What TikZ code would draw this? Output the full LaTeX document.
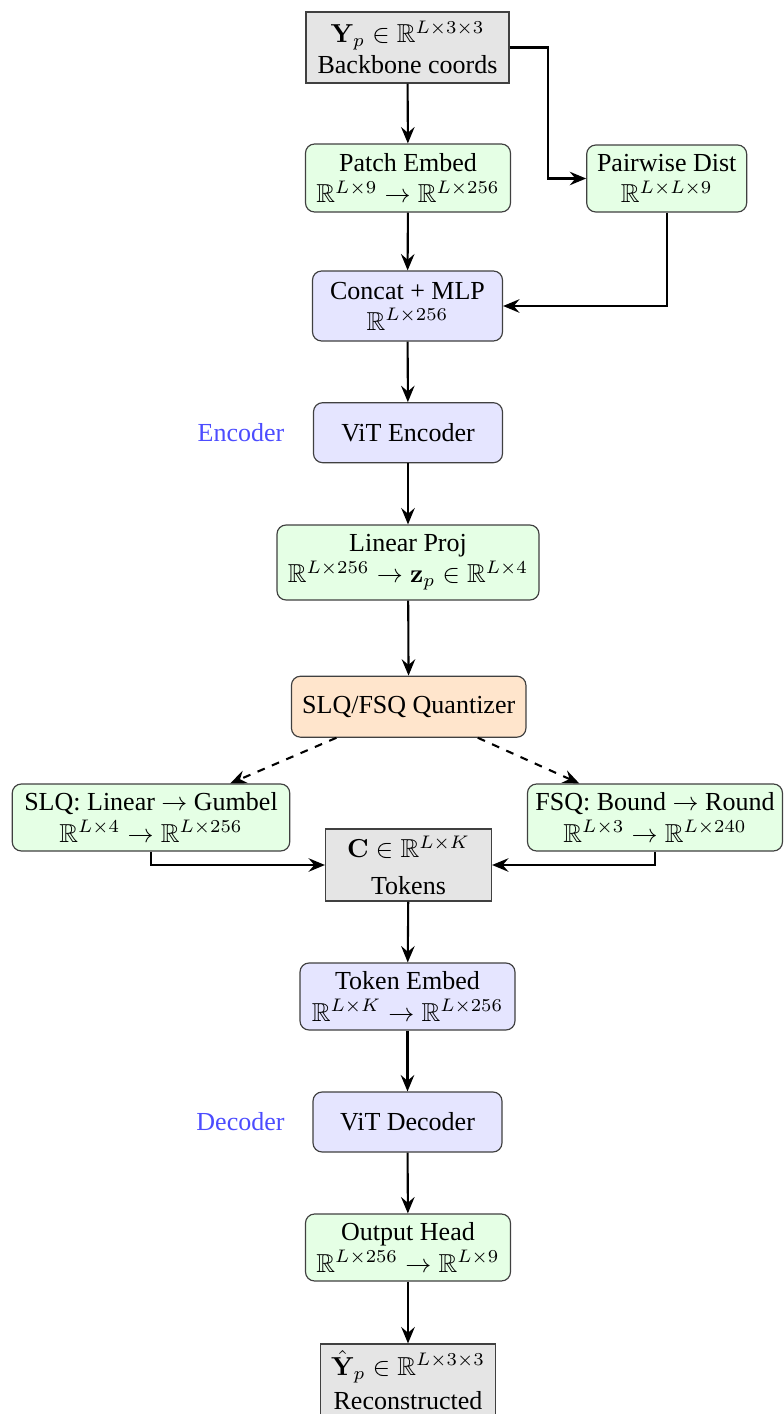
\documentclass[tikz,border=0pt]{standalone}
\usepackage{amsmath,amssymb}
\usepackage[no-math]{fontspec}
\setmainfont{Liberation Serif}
\usetikzlibrary{arrows.meta}
\newcommand{\pxlen}{0.3846pt}
\begin{document}
\begin{tikzpicture}[x=0.3846pt,y=-0.3846pt,
  box/.style={draw=black!75, line width=0.45pt, align=center, inner sep=0pt,
    font=\fontsize{10}{12}\selectfont},
  wh/.style 2 args={minimum width=#1*\pxlen, minimum height=#2*\pxlen},
  iobox/.style={box, fill=gray!20},
  opbox/.style={box, fill=green!10, rounded corners=3.5pt},
  netbox/.style={box, fill=blue!10, rounded corners=3.5pt},
  qbox/.style={box, fill=orange!20, rounded corners=3.5pt},
  lbl/.style={text=blue!70, font=\fontsize{10}{12}\selectfont},
  arr/.style={-{Stealth[length=6.3pt,width=5.2pt,inset=2.2pt]}, thick},
]
\useasboundingbox (0,0) rectangle (783,1414);

% encoder path
\node[iobox, wh={203}{71}] (yp) at (407.5,47.5)
  {$\mathbf{Y}_p \in \mathbb{R}^{L\times3\times3}$\\Backbone coords};
\node[opbox, wh={205}{68}] (patch) at (408,178)
  {Patch Embed\\$\mathbb{R}^{L\times9} \rightarrow \mathbb{R}^{L\times256}$};
\node[opbox, wh={160}{67}] (pair) at (666.7,178.5)
  {Pairwise Dist\\$\mathbb{R}^{L\times L\times9}$};
\node[netbox, wh={190}{70}] (concat) at (407.5,306)
  {Concat + MLP\\$\mathbb{R}^{L\times256}$};
\node[netbox, wh={189}{60}] (vitenc) at (408,432.7) {ViT Encoder};
\node[lbl] (enclbl) at (241,433) {Encoder};
\node[opbox, wh={262}{75}] (proj) at (408,562.5)
  {Linear Proj\\$\mathbb{R}^{L\times256} \rightarrow \mathbf{z}_p \in \mathbb{R}^{L\times4}$};

% quantizer
\node[qbox, wh={234.5}{61}] (quant) at (408.7,706.7) {SLQ/FSQ Quantizer};
\node[opbox, wh={277.5}{67}] (slq) at (151,817.5)
  {SLQ: Linear $\rightarrow$ Gumbel\\$\mathbb{R}^{L\times4} \rightarrow \mathbb{R}^{L\times256}$};
\node[opbox, wh={255}{67}] (fsq) at (655,817.5)
  {FSQ: Bound $\rightarrow$ Round\\$\mathbb{R}^{L\times3} \rightarrow \mathbb{R}^{L\times240}$};
\node[iobox, wh={166}{72}] (tok) at (408.5,865)
  {$\mathbf{C} \in \mathbb{R}^{L\times K}$\\[2pt]Tokens};

% decoder path
\node[netbox, wh={215}{67}] (tokemb) at (407.5,996.5)
  {Token Embed\\$\mathbb{R}^{L\times K} \rightarrow \mathbb{R}^{L\times256}$};
\node[netbox, wh={189}{60}] (vitdec) at (407.5,1122) {ViT Decoder};
\node[lbl] (declbl) at (240.5,1122) {Decoder};
\node[opbox, wh={205}{67}] (head) at (408,1247.5)
  {Output Head\\$\mathbb{R}^{L\times256} \rightarrow \mathbb{R}^{L\times9}$};
\node[iobox, wh={175}{72}] (recon) at (408,1380)
  {$\hat{\mathbf{Y}}_p \in \mathbb{R}^{L\times3\times3}$\\[1pt]Reconstructed};

% connectors
\draw[arr] (yp) -- (patch);
\draw[arr] (yp.east) -- ++(38,0) |- (pair.west);
\draw[arr] (patch) -- (concat);
\draw[arr] (pair.south) |- (concat.east);
\draw[arr] (concat) -- (vitenc);
\draw[arr] (vitenc) -- (proj);
\draw[arr] (proj) -- (quant);
\draw[arr, dashed] (quant) -- (slq);
\draw[arr, dashed] (quant) -- (fsq);
\draw[arr] (slq.south) |- (tok.west);
\draw[arr] (fsq.south) |- (tok.east);
\draw[arr] (tok) -- (tokemb);
\draw[arr] (tokemb) -- (vitdec);
\draw[arr] (vitdec) -- (head);
\draw[arr] (head) -- (recon);
\end{tikzpicture}
\end{document}
